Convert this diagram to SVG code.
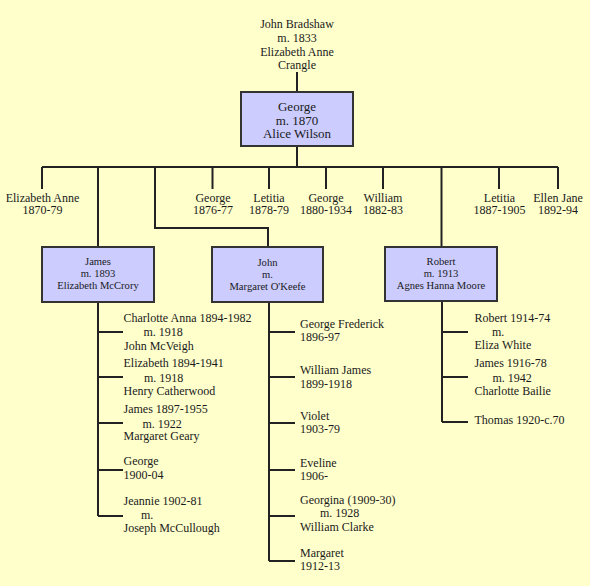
<svg xmlns="http://www.w3.org/2000/svg" width="590" height="586" viewBox="0 0 590 586">
<style>
text{font-family:"Liberation Serif","Times New Roman",serif;fill:#1a1a1a}
.t12{font-size:12px}
.t13{font-size:13px}
.tb{font-size:10.6px}
.c{text-anchor:middle}
.box{fill:#ccccff;stroke:#333;stroke-width:2}
.ln{fill:none;stroke:#222;stroke-width:2}
</style>
<rect x="0" y="0" width="590" height="586" fill="#ffffcc"/>
<g id="connectors">
<path class="ln" d="M297,72 V92"/>
<path class="ln" d="M297,146 V167"/>
<path class="ln" d="M42,167 H558"/>
<path class="ln" d="M42,167 V189 M212.5,167 V189 M269,167 V189 M326,167 V189 M383,167 V189 M499,167 V189 M558,167 V189"/>
<path class="ln" d="M98,167 V247"/>
<path class="ln" d="M155,167 V228 H268 V247"/>
<path class="ln" d="M441.5,167 V247"/>
<path class="ln" d="M98,302 V516 M98,332 H123 M98,377 H123 M98,423 H123 M98,470 H123 M98,516 H123"/>
<path class="ln" d="M269,302 V561 M269,332 H295 M269,377 H295 M269,423 H295 M269,470 H295 M269,516 H295 M269,561 H295"/>
<path class="ln" d="M442,301 V422 M442,332 H468 M442,377 H468 M442,422 H468"/>
</g>
<g id="root">
<text class="t12 c" x="297" y="28">John Bradshaw</text>
<text class="t12 c" x="297" y="42">m. 1833</text>
<text class="t12 c" x="297" y="55.5">Elizabeth Anne</text>
<text class="t12 c" x="297" y="69">Crangle</text>
</g>
<g id="george">
<rect class="box" x="241" y="92" width="112" height="54"/>
<text class="t13 c" x="297" y="111">George</text>
<text class="t13 c" x="297" y="124.5">m. 1870</text>
<text class="t13 c" x="297" y="138">Alice Wilson</text>
</g>
<g id="elizabeth-anne"><text class="t12 c" x="42.5" y="202">Elizabeth Anne</text><text class="t12 c" x="42.5" y="213.5">1870-79</text></g>
<g id="george-1876"><text class="t12 c" x="213" y="202">George</text><text class="t12 c" x="213" y="213.5">1876-77</text></g>
<g id="letitia-1878"><text class="t12 c" x="269" y="202">Letitia</text><text class="t12 c" x="269" y="213.5">1878-79</text></g>
<g id="george-1880"><text class="t12 c" x="326" y="202">George</text><text class="t12 c" x="326" y="213.5">1880-1934</text></g>
<g id="william"><text class="t12 c" x="383" y="202">William</text><text class="t12 c" x="383" y="213.5">1882-83</text></g>
<g id="letitia-1887"><text class="t12 c" x="499.5" y="202">Letitia</text><text class="t12 c" x="499.5" y="213.5">1887-1905</text></g>
<g id="ellen-jane"><text class="t12 c" x="558" y="202">Ellen Jane</text><text class="t12 c" x="558" y="213.5">1892-94</text></g>
<g id="james">
<rect class="box" x="42" y="247" width="112" height="55"/>
<text class="tb c" x="98" y="265">James</text>
<text class="tb c" x="98" y="277">m. 1893</text>
<text class="tb c" x="98" y="289">Elizabeth McCrory</text>
</g>
<g id="john">
<rect class="box" x="212" y="247" width="111" height="55"/>
<text class="tb c" x="267.5" y="265.5">John</text>
<text class="tb c" x="267.5" y="277.5">m.</text>
<text class="tb c" x="267.5" y="289.5">Margaret O'Keefe</text>
</g>
<g id="robert">
<rect class="box" x="385" y="247" width="112" height="54"/>
<text class="tb c" x="441" y="265">Robert</text>
<text class="tb c" x="441" y="277">m. 1913</text>
<text class="tb c" x="441" y="289">Agnes Hanna Moore</text>
</g>
<g id="james-children">
<text class="t12" x="123.5" y="322">Charlotte Anna 1894-1982</text>
<text class="t12" x="143.5" y="336">m. 1918</text>
<text class="t12" x="124" y="349.5">John McVeigh</text>
<text class="t12" x="123.5" y="367">Elizabeth 1894-1941</text>
<text class="t12" x="144" y="381.5">m. 1918</text>
<text class="t12" x="123.5" y="394.5">Henry Catherwood</text>
<text class="t12" x="123.5" y="412.5">James 1897-1955</text>
<text class="t12" x="142.5" y="427.5">m. 1922</text>
<text class="t12" x="123.5" y="440">Margaret Geary</text>
<text class="t12" x="123.5" y="465">George</text>
<text class="t12" x="123.5" y="478.5">1900-04</text>
<text class="t12" x="123.5" y="504.5">Jeannie 1902-81</text>
<text class="t12" x="141" y="518.5">m.</text>
<text class="t12" x="123.5" y="532">Joseph McCullough</text>
</g>
<g id="john-children">
<text class="t12" x="300" y="327.5">George Frederick</text>
<text class="t12" x="300" y="341">1896-97</text>
<text class="t12" x="300" y="373.5">William James</text>
<text class="t12" x="300" y="387.5">1899-1918</text>
<text class="t12" x="300" y="419.5">Violet</text>
<text class="t12" x="300" y="433">1903-79</text>
<text class="t12" x="300" y="467">Eveline</text>
<text class="t12" x="300" y="480">1906-</text>
<text class="t12" x="300" y="504">Georgina (1909-30)</text>
<text class="t12" x="320" y="517">m. 1928</text>
<text class="t12" x="300" y="531">William Clarke</text>
<text class="t12" x="300" y="557">Margaret</text>
<text class="t12" x="300" y="570">1912-13</text>
</g>
<g id="robert-children">
<text class="t12" x="474.5" y="322">Robert 1914-74</text>
<text class="t12" x="492" y="335.5">m.</text>
<text class="t12" x="474.5" y="348.5">Eliza White</text>
<text class="t12" x="474.5" y="367">James 1916-78</text>
<text class="t12" x="492.5" y="382">m. 1942</text>
<text class="t12" x="474.5" y="395">Charlotte Bailie</text>
<text class="t12" x="474.5" y="423.5">Thomas 1920-c.70</text>
</g>
</svg>
